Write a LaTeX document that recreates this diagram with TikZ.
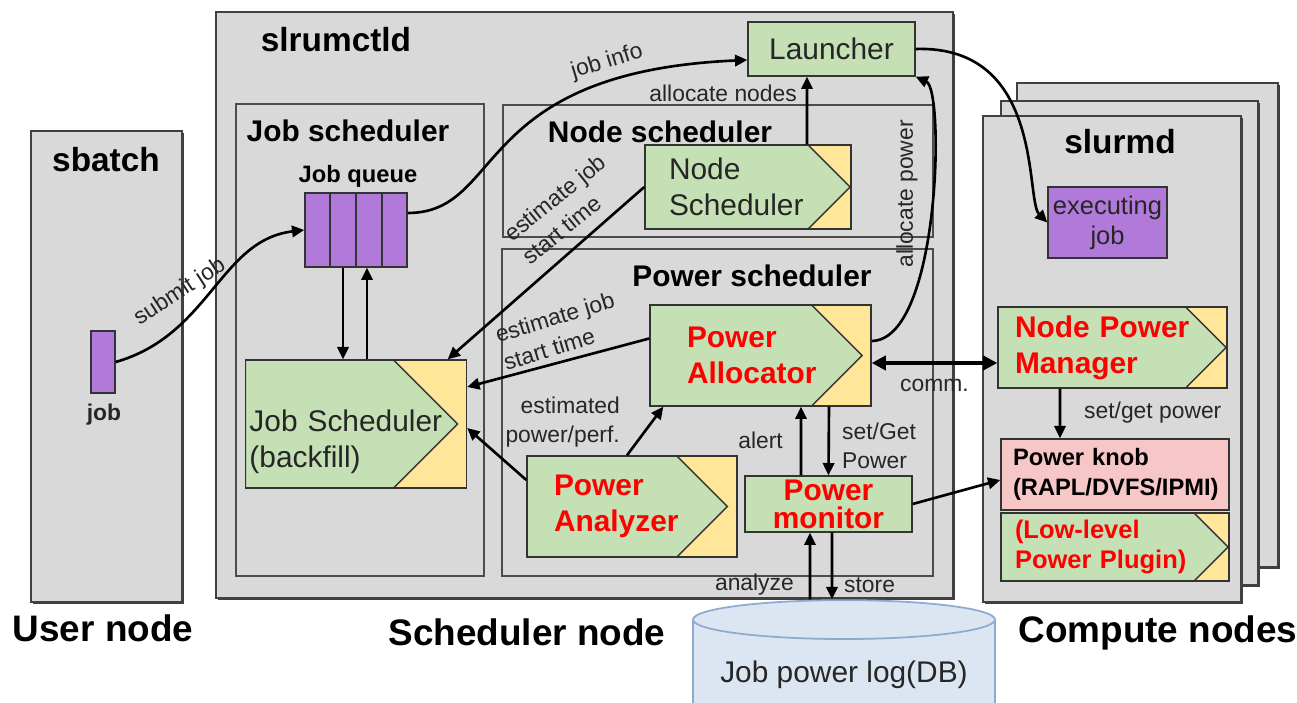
\documentclass[tikz,border=0pt]{standalone}
\usepackage{fontspec}
\setmainfont{Liberation Sans}
\usetikzlibrary{arrows.meta,calc,shadows,shapes.geometric}

\definecolor{panelgray}{HTML}{D9D9D9}
\definecolor{boxgreen}{HTML}{C5E0B4}
\definecolor{boxyellow}{HTML}{FFE699}
\definecolor{jobpurple}{HTML}{B179D9}
\definecolor{knobpink}{HTML}{F7C6C6}
\definecolor{dbfill}{HTML}{DCE6F2}
\definecolor{dbline}{HTML}{8FAAD0}
\definecolor{txtgray}{HTML}{262626}

\newcommand{\fs}[2]{\fontsize{#1}{#2}\selectfont}

\tikzset{
  panel/.style={draw=black!75, line width=0.9pt, fill=panelgray,
    drop shadow={shadow xshift=1.3pt, shadow yshift=-1.3pt, opacity=1, fill=black!75}},
  subpanel/.style={draw=black!70, line width=0.8pt, fill=panelgray,
    drop shadow={shadow xshift=0.5pt, shadow yshift=-0.7pt, opacity=1, fill=black!60}},
  paneltitle/.style={font=\bfseries\fs{19}{22}},
  subtitle/.style={font=\bfseries\fs{17}{20}},
  hostname/.style={font=\bfseries\fs{21}{24}},
  greenbox/.style={draw=black!80, line width=0.8pt, fill=boxgreen, text=txtgray,
    font=\fs{17}{20.5},
    drop shadow={shadow xshift=0.5pt, shadow yshift=-0.7pt, opacity=1, fill=black!50}},
  chev/.style={greenbox, fill=boxyellow, align=left,
    path picture={
      \path[fill=boxgreen, draw=black!80, line width=0.8pt]
        let \p1=(path picture bounding box.north east),
            \p2=(path picture bounding box.south west) in
        (\x2,\y1) -- (\x1-#1-0.5*\y1+0.5*\y2,\y1) -- (\x1-#1,0.5*\y1+0.5*\y2)
        -- (\x1-#1-0.5*\y1+0.5*\y2,\y2) -- (\x2,\y2) -- cycle;
    }},
  chev/.default=4pt,
  redtxt/.style={text=red, font=\bfseries\fs{17}{20.5}},
  jobbox/.style={draw=black!80, line width=0.8pt, fill=jobpurple},
  lbl/.style={text=txtgray, font=\fs{13}{16.5}},
  arr/.style={-{Triangle[length=7pt,width=6.5pt]}, line width=1.5pt},
  dblarr/.style={{Triangle[length=8pt,width=8pt]}-{Triangle[length=8pt,width=8pt]}, line width=2.2pt},
}

\begin{document}
\begin{tikzpicture}[x=0.2mm, y=-0.2mm]
  \useasboundingbox (0,0) rectangle (1297,703);

  % hosts
  \draw[panel] (31,131) rectangle (182,602);
  \draw[panel] (216,12) rectangle (953,598);
  \draw[panel] (1017,83) rectangle (1278,567);
  \draw[panel] (1001,101) rectangle (1258,585);
  \draw[panel] (983,116) rectangle (1241,602);

  \draw[subpanel] (236,104) rectangle (484,576);
  \draw[subpanel] (503,105) rectangle (933,237);
  \draw[subpanel] (502,249) rectangle (933,576);

  \node[paneltitle] (sbatch) at (106,160) {sbatch};
  \node[paneltitle] (ctld) at (336,40) {slrumctld};
  \node[paneltitle] (slurmd) at (1120,142) {slurmd};
  \node[subtitle] (jstitle) at (348,131) {Job scheduler};
  \node[subtitle] (nstitle) at (660,132) {Node scheduler};
  \node[subtitle] (pstitle) at (752,276) {Power scheduler};

  \node[hostname] (usernode) at (103,628) {User node};
  \node[hostname] (schednode) at (527,632) {Scheduler node};
  \node[hostname] (compnodes) at (1158,633) {Compute nodes};

  % user side
  \node[jobbox, minimum width=4.8mm, minimum height=12.4mm, inner sep=0pt] (userjob) at (103,362) {};
  \node[font=\bfseries\fs{13}{16}, text=txtgray] (jobtxt) at (104,415) {job};

  % job scheduler
  \node[jobbox, minimum width=20.4mm, minimum height=14.8mm, inner sep=0pt] (queue) at (356,230) {};
  \foreach \k in {1,2,3}
    \draw[line width=0.8pt, black!80] ($(queue.north west)!\k/4!(queue.north east)$) -- ($(queue.south west)!\k/4!(queue.south east)$);
  \node[font=\bfseries\fs{13.5}{16}] (qtitle) at (358,176) {Job queue};
  \node[chev=5pt, text width=42.6mm, inner xsep=0.8mm, minimum height=25.6mm] (js) at (356,424)
    {\rule{0pt}{32pt}Job Scheduler\\(backfill)};

  % node scheduler, launcher
  \node[chev=0.5pt, text width=31.6mm, inner xsep=4.8mm, minimum height=16.8mm] (ns) at (748,187) {Node\\Scheduler};
  \node[greenbox, minimum width=33.4mm, minimum height=10.8mm] (launcher) at (831.5,49) {Launcher};

  % power scheduler
  \node[chev=5pt, redtxt, text width=29.4mm, inner xsep=7.4mm, minimum height=20.2mm] (alloc) at (760.5,355.5) {Power\\Allocator};
  \node[chev=5.5pt, redtxt, text width=31.2mm, inner xsep=5.4mm, minimum height=20.2mm] (analyzer) at (632,506.5) {Power\\Analyzer};
  \node[greenbox, redtxt, font=\bfseries\fs{17}{16}, align=center, inner sep=0pt,
    minimum width=33.4mm, minimum height=11.2mm] (monitor) at (828.5,504) {Power\\monitor};

  % compute node
  \node[jobbox, text=txtgray, font=\fs{14.5}{17}, align=center, inner sep=0pt,
    minimum width=23.8mm, minimum height=14.2mm] (execjob) at (1107.5,222.5) {executing\\job};
  \node[chev=0.5pt, redtxt, text width=39mm, inner xsep=3.4mm, minimum height=16.2mm] (npm) at (1112.5,347.5) {Node Power\\Manager};
  \node[greenbox, fill=knobpink, text=black, font=\bfseries\fs{13.5}{17}, align=left,
    text width=40.8mm, inner xsep=2.4mm, minimum height=14.2mm] (knob) at (1115,474.5) {Power knob\\(RAPL/DVFS/IPMI)};
  \node[chev=0.5pt, redtxt, font=\bfseries\fs{14.5}{17}, text width=40mm, inner xsep=2.8mm, minimum height=13.6mm] (plugin) at (1115,547) {(Low-level\\Power Plugin)};

  % database
  \node[cylinder, shape border rotate=90, aspect=0.15, draw=dbline, fill=dbfill, line width=1pt,
    minimum width=60.4mm, minimum height=24.8mm, text=txtgray, font=\fs{17}{20}] (db) at (844,675) {Job power log(DB)};

  % connectors
  \draw[arr] (userjob.east) .. controls (210,335) and (220,240) .. (queue.west);
  \draw[arr] ([yshift=3.4mm]queue.east) .. controls (505,213) and (470,72) .. ([yshift=-2.2mm]launcher.west);
  \draw[arr] ([xshift=-2.6mm]queue.south) -- ([xshift=-2.6mm]js.north);
  \draw[arr] ([xshift=2.2mm]js.north) -- ([xshift=2.2mm]queue.south);
  \draw[arr] (ns.west) -- ([xshift=-3.9mm]js.north east);
  \draw[arr] ([yshift=3.4mm]alloc.west) -- ([yshift=7.4mm]js.east);
  \draw[arr] ([yshift=5.3mm]analyzer.west) -- ([yshift=-0.8mm]js.east);
  \draw[arr] ([xshift=-1mm]analyzer.north) -- ([xshift=2.8mm]alloc.south west);
  \draw[arr] ([xshift=11.8mm]ns.north) -- ([xshift=-4.9mm]launcher.south);
  \draw[arr] ([yshift=2.9mm]alloc.east) .. controls (940,340) and (945,90) .. (launcher.south east);
  \draw[arr] (launcher.east) .. controls (1045,45) and (1025,200) .. (execjob.west);
  \draw[dblarr] ([yshift=-1.5mm]alloc.east) -- ([yshift=-3.1mm]npm.west);
  \draw[arr] ([xshift=-5.5mm]monitor.north) -- ([xshift=8.1mm]alloc.south);
  \draw[arr] ([xshift=13.7mm]alloc.south) -- (monitor.north);
  \draw[arr] (monitor.east) -- ([yshift=-1.1mm]knob.west);
  \draw[arr] ([xshift=-10.5mm]npm.south) -- ([xshift=-11mm]knob.north);
  \draw[arr] ([xshift=-6.8mm]db.north) -- ([xshift=-3.7mm]monitor.south);
  \draw[arr] ([xshift=0.7mm]monitor.south) -- ([xshift=-2.4mm]db.north);

  % connector labels
  \node[lbl, rotate=33] (submit) at (180,292) {submit job};
  \node[lbl, rotate=17] (jobinfo) at (607,62) {job info};
  \node[lbl, rotate=39, align=left] (est1) at (564,209) {estimate job\\start time};
  \node[lbl, rotate=17, align=left] (est2) at (559,331) {estimate job\\start time};
  \node[lbl, align=right, anchor=east] (estpp) at (626,422) {estimated\\power/perf.};
  \node[lbl, anchor=east] (allocn) at (803,93) {allocate nodes};
  \node[lbl, rotate=90] (allocp) at (907,194) {allocate power};
  \node[lbl, anchor=east] (alert) at (789,440) {alert};
  \node[lbl, align=left, anchor=west] (setget) at (836,446) {set/Get\\Power};
  \node[lbl, anchor=west] (comm) at (894,385) {comm.};
  \node[lbl, anchor=west] (setgetp) at (1078,413) {set/get power};
  \node[lbl, anchor=east] (analyze) at (800,585) {analyze};
  \node[lbl, anchor=west] (store) at (838,585) {store};
\end{tikzpicture}
\end{document}
